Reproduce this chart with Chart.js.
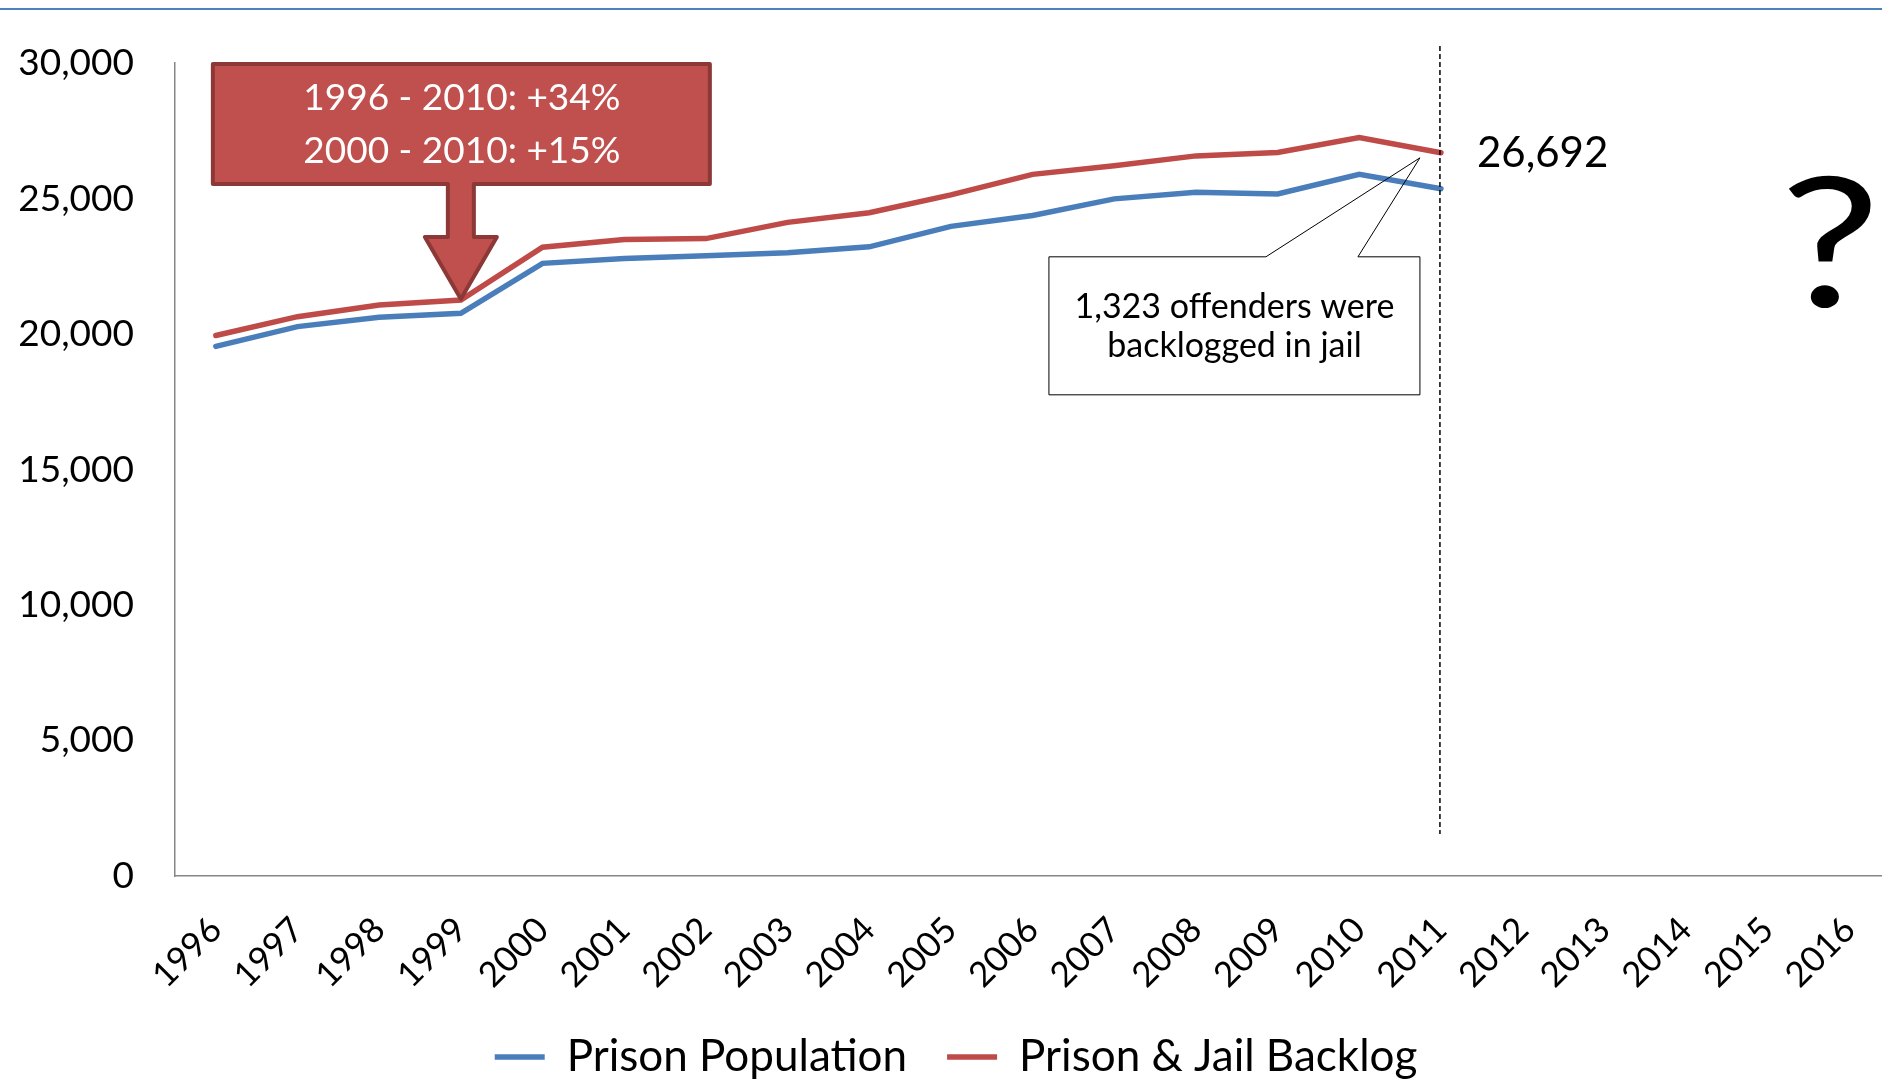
<!DOCTYPE html>
<html>
<head>
<meta charset="utf-8">
<title>Prison Population and Jail Backlog</title>
<script src="https://cdn.jsdelivr.net/npm/chart.js@4.4.1/dist/chart.umd.min.js"></script>
<style>
  html, body { margin: 0; padding: 0; background: #fff; overflow: hidden; }
  #wrap { position: relative; width: 1912px; height: 1081px; }
</style>
</head>
<body>
<div id="wrap"><canvas id="prisonChart"></canvas></div>
<script>
// Category axis runs out to 2016; the series stop at 2011
const years = ['1996', '1997', '1998', '1999', '2000', '2001', '2002', '2003', '2004', '2005',
               '2006', '2007', '2008', '2009', '2010', '2011', '2012', '2013', '2014', '2015', '2016'];

const prisonPopulation = [19546, 20278, 20623, 20769, 22612, 22795, 22894, 23003, 23223, 23978,
                          24381, 24993, 25238, 25176, 25897, 25369];

// prison population plus offenders backlogged in county jails
const prisonAndBacklog = [19949, 20645, 21073, 21256, 23209, 23490, 23527, 24125, 24480, 25139,
                          25897, 26212, 26579, 26703, 27253, 26692];

const yTicks = [0, 5000, 10000, 15000, 20000, 25000, 30000];

const growthNotes = ['1996 - 2010: +34%', '2000 - 2010: +15%'];

const BLUE = '#4a7ebb';
const RED = '#be4b48';

Chart.defaults.font.family = 'Lato, "Open Sans", sans-serif';
Chart.defaults.color = '#000';

const fmt = v => v.toLocaleString('en-US');

// extra drawing: top rule, 2011 marker, callouts and the "?" for the future years
const notesPlugin = {
  id: 'notes',
  beforeDraw(chart) {
    const ctx = chart.ctx;
    ctx.save();
    ctx.strokeStyle = '#4f81bd';
    ctx.lineWidth = 2;
    ctx.beginPath();
    ctx.moveTo(0, 9);
    ctx.lineTo(chart.width, 9);
    ctx.stroke();
    ctx.restore();
  },
  afterDatasetsDraw(chart) {
    const ctx = chart.ctx;
    const xs = chart.scales.x, ys = chart.scales.y;
    const last = prisonAndBacklog.length - 1;
    const px = xs.getPixelForValue(last);
    const py = ys.getPixelForValue(prisonAndBacklog[last]);

    ctx.save();

    // dashed line at the last reported year
    ctx.strokeStyle = '#000';
    ctx.lineWidth = 1.5;
    ctx.setLineDash([5, 3]);
    ctx.beginPath();
    ctx.moveTo(px - 1, 46);
    ctx.lineTo(px - 1, 834);
    ctx.stroke();
    ctx.setLineDash([]);

    // latest total
    ctx.fillStyle = '#000';
    ctx.font = '42px Lato';
    ctx.textAlign = 'left';
    ctx.textBaseline = 'middle';
    ctx.fillText(fmt(prisonAndBacklog[last]), px + 36, py + 1);

    // backlog callout
    const backlog = prisonAndBacklog[last] - prisonPopulation[last];
    const bl = px - 392, br = px - 21, bt = py + 104, bb = py + 242;
    ctx.fillStyle = '#fff';
    ctx.fillRect(bl, bt, br - bl, bb - bt);
    ctx.strokeStyle = '#000';
    ctx.lineWidth = 1;
    ctx.beginPath();
    ctx.moveTo(px - 175, bt);
    ctx.lineTo(bl, bt);
    ctx.lineTo(bl, bb);
    ctx.lineTo(br, bb);
    ctx.lineTo(br, bt);
    ctx.lineTo(px - 83, bt);
    ctx.lineTo(px - 21, py + 5);
    ctx.closePath();
    ctx.stroke();
    ctx.fillStyle = '#000';
    ctx.font = '34px Lato';
    ctx.textAlign = 'center';
    ctx.fillText(fmt(backlog) + ' offenders were', (bl + br) / 2, py + 154);
    ctx.fillText('backlogged in jail', (bl + br) / 2, py + 193);

    // growth arrow pointing at 1999
    const ax = xs.getPixelForValue(3);
    const ay = ys.getPixelForValue(prisonAndBacklog[3]) - 1;
    const L = ax - 248, R = ax + 249, T = ay - 235, B = ay - 115, H = ay - 62;
    ctx.beginPath();
    ctx.moveTo(L, T);
    ctx.lineTo(R, T);
    ctx.lineTo(R, B);
    ctx.lineTo(ax + 13, B);
    ctx.lineTo(ax + 13, H);
    ctx.lineTo(ax + 36, H);
    ctx.lineTo(ax, ay);
    ctx.lineTo(ax - 36, H);
    ctx.lineTo(ax - 13, H);
    ctx.lineTo(ax - 13, B);
    ctx.lineTo(L, B);
    ctx.closePath();
    ctx.fillStyle = '#c0504d';
    ctx.fill();
    ctx.strokeStyle = '#8c3836';
    ctx.lineWidth = 4;
    ctx.lineJoin = 'round';
    ctx.stroke();
    ctx.fillStyle = '#fff';
    ctx.font = '37px Lato';
    ctx.fillText(growthNotes[0], ax + 1, ay - 201);
    ctx.fillText(growthNotes[1], ax + 1, ay - 148);

    // open question for the years ahead
    ctx.fillStyle = '#000';
    ctx.font = '180px Lato';
    ctx.textBaseline = 'alphabetic';
    ctx.translate(1830, 307);
    ctx.scale(1.25, 1);
    ctx.fillText('?', 0, 0);

    ctx.restore();
  }
};

new Chart(document.getElementById('prisonChart'), {
  type: 'line',
  data: {
    labels: years,
    datasets: [{
      label: 'Prison Population',
      data: prisonPopulation,
      borderColor: BLUE,
      backgroundColor: BLUE,
      borderWidth: 5.5,
      borderCapStyle: 'round',
      pointRadius: 0,
      tension: 0
    }, {
      label: 'Prison & Jail Backlog',
      data: prisonAndBacklog,
      borderColor: RED,
      backgroundColor: RED,
      borderWidth: 5.5,
      borderCapStyle: 'round',
      pointRadius: 0,
      tension: 0
    }]
  },
  options: {
    responsive: true,
    maintainAspectRatio: false,
    animation: false,
    layout: { padding: { top: 58, left: 0, right: 0, bottom: 0 } },
    plugins: {
      tooltip: { enabled: false },
      legend: {
        position: 'bottom',
        maxHeight: 86,
        labels: {
          font: { size: 44 },
          usePointStyle: true,
          pointStyle: 'line',
          pointStyleWidth: 50,
          padding: 40
        }
      }
    },
    scales: {
      x: {
        offset: true,
        grid: { display: false, drawTicks: false },
        border: { color: '#868686', width: 1.5 },
        ticks: {
          font: { size: 35 },
          minRotation: 45,
          maxRotation: 45,
          autoSkip: false,
          padding: 33
        },
        afterFit(scale) { scale.height = 119; }
      },
      y: {
        min: 0,
        max: 30000,
        grid: { display: false, drawTicks: false },
        border: { color: '#868686', width: 1.5 },
        ticks: {
          font: { size: 37 },
          padding: 41,
          callback: v => fmt(v)
        },
        afterBuildTicks(scale) { scale.ticks = yTicks.map(v => ({ value: v })); },
        afterFit(scale) { scale.width = 175; }
      }
    }
  },
  plugins: [notesPlugin]
});
</script>
</body>
</html>
